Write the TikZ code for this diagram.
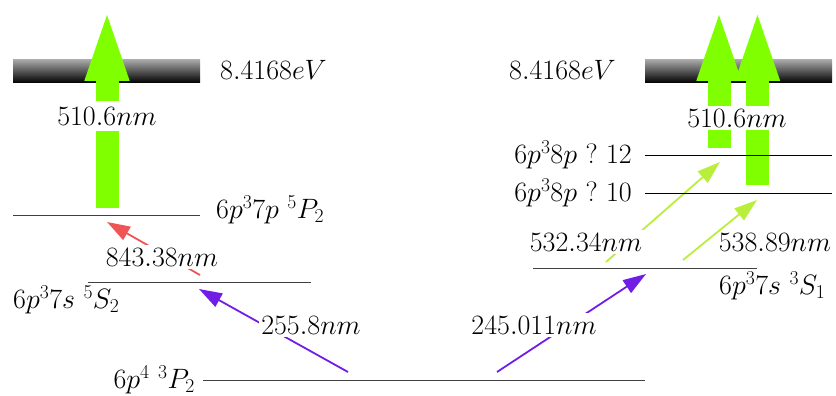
\RequirePackage{fix-cm}
\documentclass[tikz,border=0pt]{standalone}
\usetikzlibrary{arrows.meta}
\definecolor{bgreen}{RGB}{128,255,0}
\definecolor{lgreen}{RGB}{185,238,60}
\definecolor{vpurple}{RGB}{112,30,230}
\definecolor{lred}{RGB}{240,85,85}
\begin{document}
\begin{tikzpicture}[x=1pt,y=-1pt,
  lvl/.style={draw=black!75, line width=1pt},
  ionbar/.style={top color=black!35, middle color=black!85, bottom color=black},
  lab/.style={font=\fontsize{28}{34}\selectfont, inner sep=1pt},
  wlab/.style={lab, fill=white, inner xsep=2pt, inner ysep=5pt},
  trans/.style={line width=1.8pt, -{Triangle[length=23pt,width=15pt]}},
  bigarrow/.style={draw=bgreen, line width=23pt, -{Triangle[length=76pt,width=38pt]}}]
\useasboundingbox (0,0) rectangle (836,396);

% ionization bars
\shade[ionbar] (13,60) rectangle (200,83);
\shade[ionbar] (645,60) rectangle (832,83);

% level coordinates
\coordinate (p7a) at (13,215);   \coordinate (p7b) at (200,215);
\coordinate (s5a) at (88,282);   \coordinate (s5b) at (311,282);
\coordinate (gra) at (203,380);  \coordinate (grb) at (645,380);
\coordinate (s3a) at (533,268);  \coordinate (s3b) at (757,268);
\coordinate (l12a) at (645,155); \coordinate (l12b) at (832,155);
\coordinate (l10a) at (645,193); \coordinate (l10b) at (832,193);

% transition end points
\coordinate (bigLs) at (107,208);   \coordinate (bigLe) at (107,5);
\coordinate (bigR1s) at (719,148);  \coordinate (bigR1e) at (719,5);
\coordinate (bigR2s) at (757.5,185);\coordinate (bigR2e) at (757.5,5);
\coordinate (redS) at (200,275);    \coordinate (redE) at (107,222);
\coordinate (puLs) at (348,372);    \coordinate (puLe) at (199,289);
\coordinate (puRs) at (497,372);    \coordinate (puRe) at (646,274);
\coordinate (g1s) at (606,262);     \coordinate (g1e) at (720,162);
\coordinate (g2s) at (683,260);     \coordinate (g2e) at (757,200);

% big green arrows
\draw[bigarrow] (bigLs) -- (bigLe);
\draw[bigarrow] (bigR1s) -- (bigR1e);
\draw[bigarrow] (bigR2s) -- (bigR2e);

% transitions
\draw[trans, lred] (redS) -- (redE);
\draw[trans, vpurple] (puLs) -- (puLe);
\draw[trans, vpurple] (puRs) -- (puRe);
\draw[trans, lgreen] (g1s) -- (g1e);
\draw[trans, lgreen] (g2s) -- (g2e);

% levels
\draw[lvl] (p7a) -- (p7b);
\draw[lvl] (s5a) -- (s5b);
\draw[lvl] (gra) -- (grb);
\draw[lvl] (s3a) -- (s3b);
\draw[lvl,draw=black] (l12a) -- (l12b);
\draw[lvl,draw=black] (l10a) -- (l10b);

% labels
\node[lab, anchor=west] (ionL) at (219,70) {$8.4168eV$};
\node[lab, anchor=east] (ionR) at (617,70) {$8.4168eV$};
\node[wlab, inner ysep=6pt] (wlL) at (107,116) {$510.6nm$};
\node[wlab, inner ysep=3pt] (wlR) at (737,118) {$510.6nm$};
\node[lab, anchor=west] (lp7) at (215,210) {$6p^37p\ {}^5P_2$};
\node[wlab, inner ysep=3pt] (wred) at (162,257) {$843.38nm$};
\node[lab, anchor=west] (ls5) at (12,300) {$6p^37s\ {}^5S_2$};
\node[wlab, inner ysep=3pt] (wpuL) at (311,325) {$255.8nm$};
\node[lab, anchor=east] (lgr) at (196,380) {$6p^4\ {}^3P_2$};
\node[wlab, inner ysep=3pt] (wpuR) at (534,325) {$245.011nm$};
\node[wlab, inner ysep=3pt] (wg1) at (586,242) {$532.34nm$};
\node[lab] (wg2) at (775,242) {$538.89nm$};
\node[lab, anchor=west] (ls3) at (718,286) {$6p^37s\ {}^3S_1$};
\node[lab, anchor=east] (l12) at (633,155) {$6p^38p\ ?\ 12$};
\node[lab, anchor=east] (l10) at (633,193) {$6p^38p\ ?\ 10$};
\end{tikzpicture}
\end{document}
